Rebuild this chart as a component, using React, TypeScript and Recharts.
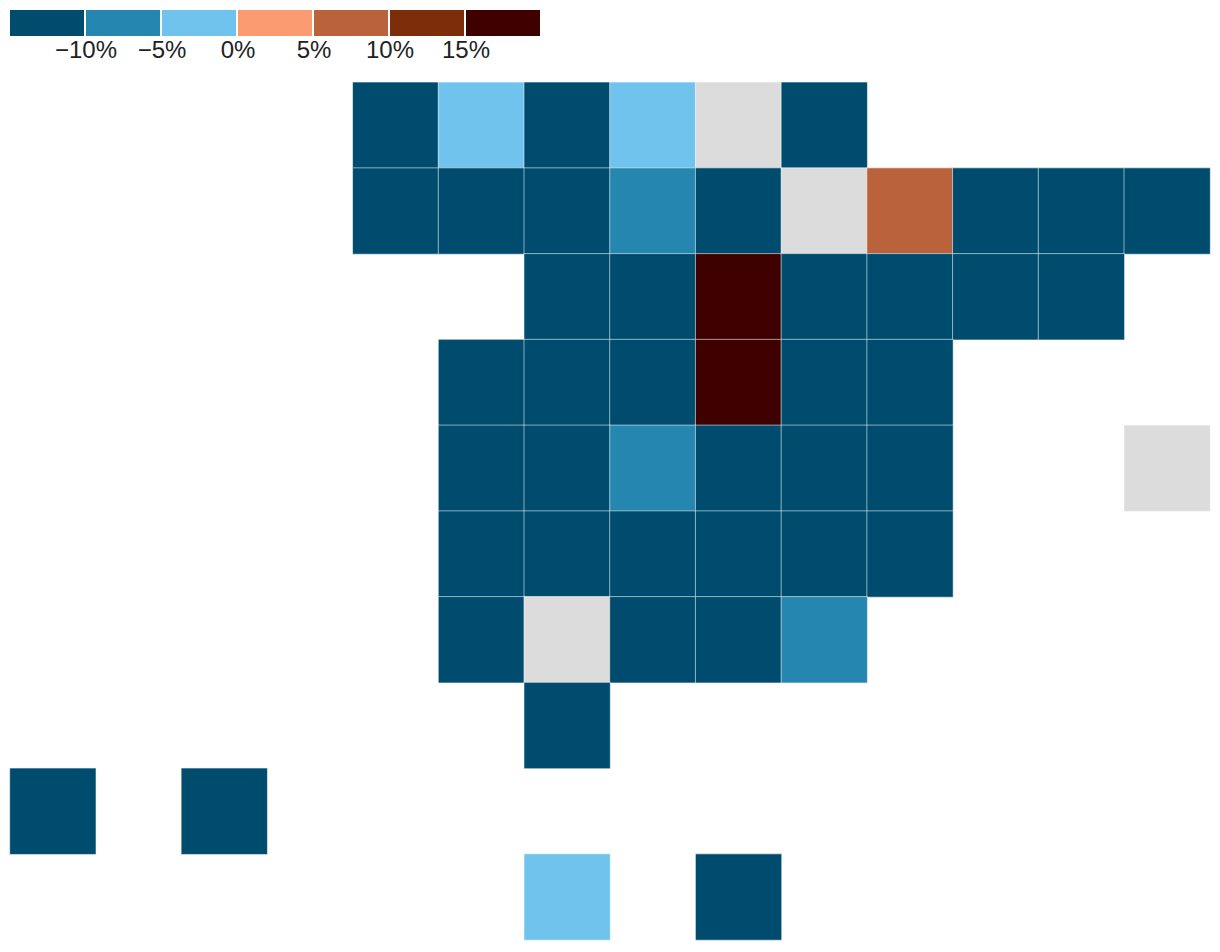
import React from "react";
import { BarChart, Bar, XAxis, YAxis, ScatterChart, Scatter, Rectangle } from "recharts";

const binColors = ["#004c6e", "#2587af", "#6fc3ed", "#fb9b71", "#b9623b", "#7e2d0b", "#3f0000"];
const noDataColor = "#dcdcdc";
const thresholds = [-10, -5, 0, 5, 10, 15];
const binKeys = ["b0", "b1", "b2", "b3", "b4", "b5", "b6"];
const legendTickValues = [1, 2, 3, 4, 5, 6];
const legendTickLabels = ["\u221210%", "\u22125%", "0%", "5%", "10%", "15%"];
const legendRow = [{ name: "bins", b0: 1, b1: 1, b2: 1, b3: 1, b4: 1, b5: 1, b6: 1 }];

// N = no data (grey), U = outside the map (no cell). Other values are % change estimated from the bin colour.
const N = "n";
const U = null;
const row0 = [U, U, U, U, -12, -2, -12, -2, N, -12, U, U, U, U];
const row1 = [U, U, U, U, -12, -12, -12, -7, -12, N, 7, -12, -12, -12];
const row2 = [U, U, U, U, U, U, -12, -12, 17, -12, -12, -12, -12, U];
const row3 = [U, U, U, U, U, -12, -12, -12, 17, -12, -12, U, U, U];
const row4 = [U, U, U, U, U, -12, -12, -7, -12, -12, -12, U, U, N];
const row5 = [U, U, U, U, U, -12, -12, -12, -12, -12, -12, U, U, U];
const row6 = [U, U, U, U, U, -12, N, -12, -12, -7, U, U, U, U];
const row7 = [U, U, U, U, U, U, -12, U, U, U, U, U, U, U];
const row8 = [-12, U, -12, U, U, U, U, U, U, U, U, U, U, U];
const row9 = [U, U, U, U, U, U, -2, U, -12, U, U, U, U, U];
const grid = [row0, row1, row2, row3, row4, row5, row6, row7, row8, row9];

const cells = grid.flatMap((row, r) =>
  row.flatMap((v, c) => (v === U ? [] : [{ col: c + 0.5, row: r + 0.5, value: v }]))
);

const colorOf = (v: any) => {
  if (v === N) return noDataColor;
  let i = 0;
  while (i < thresholds.length && v >= thresholds[i]) i++;
  return binColors[i];
};

const W = 1220;
const H = 952;
const plotLeft = 10;
const plotRight = 10;
const plotTop = 82.4;
const plotBottom = 12.1;
const COLS = 14;
const ROWS = 10;
const bleed = 0.3;
const cellW = (W - plotLeft - plotRight) / COLS;
const cellH = (H - plotTop - plotBottom) / ROWS;

const CellShape = (p: any) => (
  <Rectangle
    x={p.cx - cellW / 2 - bleed}
    y={p.cy - cellH / 2 - bleed}
    width={cellW + 2 * bleed}
    height={cellH + 2 * bleed}
    fill={colorOf(p.payload.value)}
    stroke="#ffffff"
    strokeWidth={0.6}
    strokeOpacity={0.9}
  />
);

const SwatchShape = (p: any) => (
  <Rectangle x={p.x} y={p.y} width={p.width - 2} height={p.height} fill={p.fill} />
);

export default function App() {
  return (
    <div style={{ position: "absolute", left: 0, top: 0, width: W, height: H, background: "#fff", overflow: "hidden" }}>
      <div style={{ position: "absolute", left: 0, top: 0 }}>
        <ScatterChart width={W} height={H} margin={{ left: plotLeft, right: plotRight, top: plotTop, bottom: plotBottom }}>
          <XAxis type="number" dataKey="col" domain={[0, COLS]} hide />
          <YAxis type="number" dataKey="row" domain={[0, ROWS]} reversed hide />
          <Scatter data={cells} shape={CellShape} isAnimationActive={false} />
        </ScatterChart>
      </div>
      <div style={{ position: "absolute", left: 0, top: 0 }}>
        <BarChart
          width={552}
          height={66}
          layout="vertical"
          data={legendRow}
          margin={{ left: 10, right: 10, top: 10, bottom: 0 }}
          barCategoryGap={0}
        >
          <XAxis
            type="number"
            domain={[0, 7]}
            ticks={legendTickValues}
            interval={0}
            tickFormatter={(v: number) => legendTickLabels[legendTickValues.indexOf(v)]}
            axisLine={false}
            tickLine={false}
            tickMargin={0}
            tickSize={5}
            height={30}
            tick={{ fontFamily: "Liberation Sans", fontSize: 24, fill: "#222222" }}
          />
          <YAxis type="category" dataKey="name" hide />
          {binKeys.map((k, i) => (
            <Bar key={k} dataKey={k} stackId="legend" fill={binColors[i]} shape={SwatchShape} isAnimationActive={false} />
          ))}
        </BarChart>
      </div>
    </div>
  );
}
